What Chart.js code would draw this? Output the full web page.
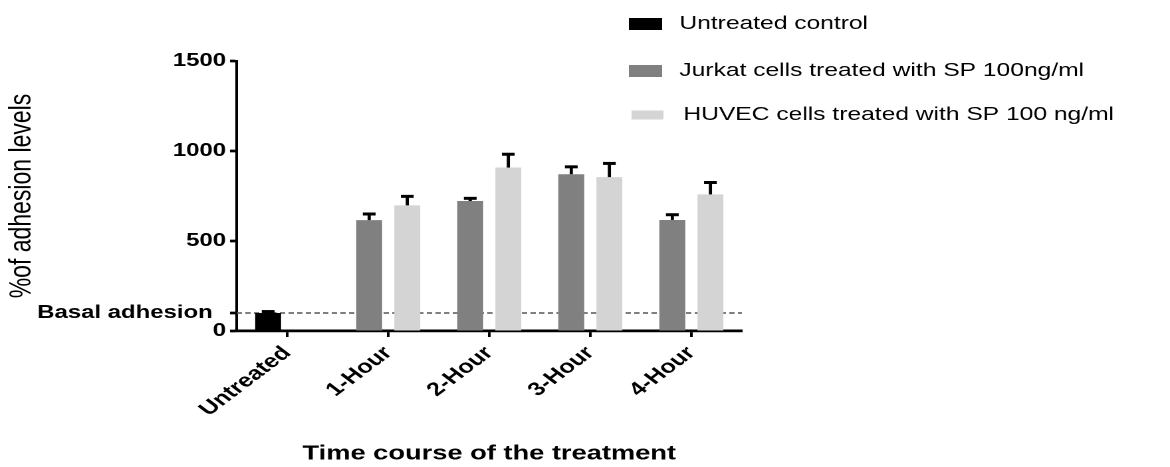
<!DOCTYPE html>
<html>
<head>
<meta charset="utf-8">
<title>Adhesion levels</title>
<script src="https://cdn.jsdelivr.net/npm/chart.js@4.4.1/dist/chart.umd.min.js"></script>
<style>
  html, body { margin: 0; padding: 0; background: #fff; }
</style>
</head>
<body>
<!-- the original figure is stretched sideways, so the canvas is drawn narrow and widened by its inline style -->
<canvas id="adhesionChart" width="880" height="467" style="width:1170px;height:467px"></canvas>
<script>
// categories on the x axis
var timepoints = ['Untreated', '1-Hour', '2-Hour', '3-Hour', '4-Hour'];

var seriesLabels = ['Untreated control', 'Jurkat cells treated with SP 100ng/ml', 'HUVEC cells treated with SP 100 ng/ml'];

// bar heights (% of adhesion levels) and the upper error bars
var untreatedValues = [100, null, null, null, null];
var untreatedErrors = [8, null, null, null, null];
var jurkatValues = [null, 616, 722, 871, 617];
var jurkatErrors = [null, 34, 15, 41, 29];
var huvecValues = [null, 698, 908, 855, 759];
var huvecErrors = [null, 50, 74, 76, 66];

// y axis ticks, the basal level gets its own tick
var basalLevel = 100;
var yTickValues = [0, 100, 500, 1000, 1500];
var yTickLabels = ['0', 'Basal adhesion', '500', '1000', '1500'];

var fontName = '"Liberation Sans", Arial, Helvetica, sans-serif';

//dashed line for the basal adhesion, drawn behind the bars
var basalLine = {
  id: 'basalLine',
  beforeDatasetsDraw: function(chart) {
    var ctx = chart.ctx;
    var area = chart.chartArea;
    var y = chart.scales.y.getPixelForValue(basalLevel);
    ctx.save();
    ctx.strokeStyle = '#555';
    ctx.lineWidth = 1.6;
    ctx.setLineDash([4, 2.5]);
    ctx.beginPath();
    ctx.moveTo(area.left, y);
    ctx.lineTo(area.right, y);
    ctx.stroke();
    ctx.restore();
  }
};

//upper error bars only, like the prism figure
var errorBars = {
  id: 'errorBars',
  afterDatasetsDraw: function(chart) {
    var ctx = chart.ctx;
    var yScale = chart.scales.y;
    ctx.save();
    ctx.strokeStyle = '#000';
    chart.data.datasets.forEach(function(ds, i) {
      var meta = chart.getDatasetMeta(i);
      meta.data.forEach(function(bar, j) {
        var v = ds.data[j];
        var err = ds.errors[j];
        if (v == null || err == null) return;
        var yTop = yScale.getPixelForValue(v + err);
        ctx.lineWidth = 2.4;
        ctx.beginPath();
        ctx.moveTo(bar.x, bar.y);
        ctx.lineTo(bar.x, yTop);
        ctx.stroke();
        ctx.lineWidth = 3;
        ctx.beginPath();
        ctx.moveTo(bar.x - 4.8, yTop);
        ctx.lineTo(bar.x + 4.8, yTop);
        ctx.stroke();
      });
    });
    ctx.restore();
  }
};

//legend sits top right, over the plot, so it is drawn by hand
var sideLegend = {
  id: 'sideLegend',
  afterDraw: function(chart) {
    var ctx = chart.ctx;
    var rows = [
      {y: 24, boxX: 473, boxW: 25, boxH: 12, textX: 511},
      {y: 71, boxX: 473, boxW: 25, boxH: 12, textX: 511},
      {y: 115, boxX: 475, boxW: 24, boxH: 9, textX: 514}
    ];
    ctx.save();
    ctx.font = '18.5px ' + fontName;
    ctx.textBaseline = 'middle';
    ctx.textAlign = 'left';
    chart.data.datasets.forEach(function(ds, i) {
      var r = rows[i];
      ctx.fillStyle = ds.backgroundColor;
      ctx.fillRect(r.boxX, r.y - r.boxH / 2, r.boxW, r.boxH);
      ctx.fillStyle = '#000';
      ctx.fillText(ds.label, r.textX, r.y);
    });
    ctx.restore();
  }
};

var chart = new Chart(document.getElementById('adhesionChart'), {
  type: 'bar',
  data: {
    labels: timepoints,
    datasets: [
      {label: seriesLabels[0], data: untreatedValues, errors: untreatedErrors, backgroundColor: '#000000', stack: 'left'},
      {label: seriesLabels[1], data: jurkatValues, errors: jurkatErrors, backgroundColor: '#808080', stack: 'left'},
      {label: seriesLabels[2], data: huvecValues, errors: huvecErrors, backgroundColor: '#d4d4d4', stack: 'right'}
    ]
  },
  options: {
    responsive: false,
    devicePixelRatio: 2,
    animation: false,
    datasets: {
      bar: {categoryPercentage: 0.754, barPercentage: 0.68}
    },
    layout: {padding: {top: 61, right: 322, bottom: 0, left: 0}},
    plugins: {
      legend: {display: false},
      tooltip: {enabled: false}
    },
    scales: {
      x: {
        grid: {drawOnChartArea: false, offset: false, tickLength: 6, tickWidth: 2, tickColor: '#000'},
        border: {color: '#000', width: 2.7},
        ticks: {
          color: '#000',
          autoSkip: false,
          minRotation: 45,
          maxRotation: 45,
          padding: 5,
          font: {family: fontName, size: 19, weight: 'bold'}
        },
        title: {
          display: true,
          text: 'Time course of the treatment',
          color: '#000',
          padding: {top: 0, bottom: 1},
          font: {family: fontName, size: 20.5, weight: 'bold'}
        },
        afterFit: function(scale) { scale.height = 136; }
      },
      y: {
        min: 0,
        max: 1500,
        afterBuildTicks: function(scale) {
          scale.ticks = yTickValues.map(function(v) { return {value: v}; });
        },
        grid: {drawOnChartArea: false, tickLength: 5, tickWidth: 2.7, tickColor: '#000'},
        border: {color: '#000', width: 2},
        ticks: {
          color: '#000',
          autoSkip: false,
          padding: 3,
          font: {family: fontName, size: 18, weight: 'bold'},
          callback: function(value) {
            var i = yTickValues.indexOf(value);
            if (i < 0) return '';
            // basal label sits a bit further from the axis in the original
            return value === basalLevel ? yTickLabels[i] + '  ' : yTickLabels[i];
          }
        },
        title: {
          display: true,
          text: '%of adhesion levels',
          color: '#000',
          padding: {top: 3, bottom: 3},
          font: {family: fontName, size: 23}
        },
        afterFit: function(scale) { scale.width = 178; }
      }
    }
  },
  plugins: [basalLine, errorBars, sideLegend]
});
</script>
</body>
</html>
